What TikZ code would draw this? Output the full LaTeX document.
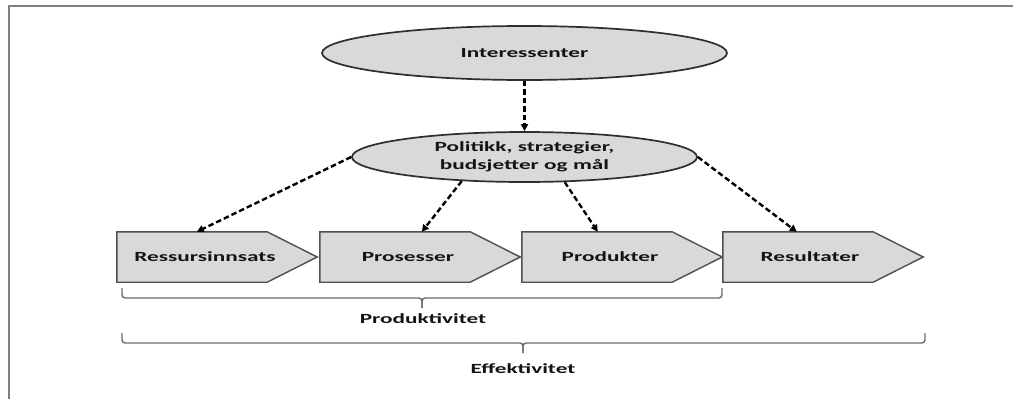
\documentclass[tikz,border=0pt]{standalone}
\usepackage{fontspec}
\setmainfont{Carlito}
\usepackage{graphicx}
\usetikzlibrary{arrows.meta,shapes.geometric}
\definecolor{boxfill}{HTML}{D9D9D9}
\definecolor{boxline}{HTML}{505050}
\definecolor{ellline}{HTML}{2E2E2E}
\definecolor{bracegray}{HTML}{6A6A6A}
\definecolor{framegray}{HTML}{808080}
\newcommand\widetxt[1]{\scalebox{1.66}[1]{#1}}
\begin{document}
\begin{tikzpicture}[x=1pt,y=-1pt,
  lbl/.style={font=\bfseries\fontsize{14}{18}\selectfont, text=black!92, inner sep=0pt, align=center},
  oval/.style={ellipse, draw=ellline, fill=boxfill, line width=1.7pt, inner sep=0pt},
  boxbase/.style={rectangle, minimum width=200pt, minimum height=50pt, inner sep=0pt},
  dasharrow/.style={line width=2.4pt, dash pattern=on 5.5pt off 3pt, -{Triangle[length=7pt,width=7pt]}},
  bracepath/.style={draw=bracegray, line width=1.4pt, rounded corners=3pt},
  arrowbox/.style={draw=boxline, fill=boxfill, line width=1.4pt, line join=miter}
]
\useasboundingbox (0,0) rectangle (1013,399);
\fill[white] (0,0) rectangle (1013,399);
\draw[framegray, line width=2pt] (9,399) -- (9,6) -- (1013,6);

% ellipses
\node[oval, lbl, minimum width=405pt, minimum height=54pt] (e1) at (524.5,53) {\widetxt{Interessenter}};
\node[oval, lbl, minimum width=345pt, minimum height=50pt] (e2) at (524.5,157) {\widetxt{Politikk, strategier,}\\\widetxt{budsjetter og mål}};

% chevron boxes
\node[boxbase] (b1) at (217,257) {};
\node[boxbase] (b2) at (420,257) {};
\node[boxbase] (b3) at (622,257) {};
\node[boxbase] (b4) at (823,257) {};
\foreach \b in {b1,b2,b3,b4}{
  \draw[arrowbox] (\b.north west) -- ([xshift=-50pt]\b.north east) -- (\b.east)
     -- ([xshift=-50pt]\b.south east) -- (\b.south west) -- cycle;
}
\node[lbl] (tb1) at ([xshift=-12pt]b1.center) {\widetxt{Ressursinnsats}};
\node[lbl] (tb2) at ([xshift=-12pt]b2.center) {\widetxt{Prosesser}};
\node[lbl] (tb3) at ([xshift=-12pt]b3.center) {\widetxt{Produkter}};
\node[lbl] (tb4) at ([xshift=-13pt]b4.center) {\widetxt{Resultater}};

% arrows
\draw[dasharrow] (e1) -- (e2);
\draw[dasharrow] (e2.west) -- ([xshift=80pt]b1.north west);
\draw[dasharrow] (e2.201) -- ([xshift=102pt]b2.north west);
\draw[dasharrow] (e2.328) -- ([xshift=76pt]b3.north west);
\draw[dasharrow] (e2.east) -- ([xshift=74pt]b4.north west);

% braces
\draw[bracepath] (122,288) -- (122,298) -- (422,298) -- (422,308);
\draw[bracepath] (722,288) -- (722,298) -- (422,298) -- (422,308);
\draw[bracepath] (122,333) -- (122,343) -- (523,343) -- (523,353);
\draw[bracepath] (925,333) -- (925,343) -- (523,343) -- (523,353);

\node[lbl] (prod) at (423,319) {\widetxt{Produktivitet}};
\node[lbl] (eff) at (523,369) {\widetxt{Effektivitet}};
\end{tikzpicture}
\end{document}
